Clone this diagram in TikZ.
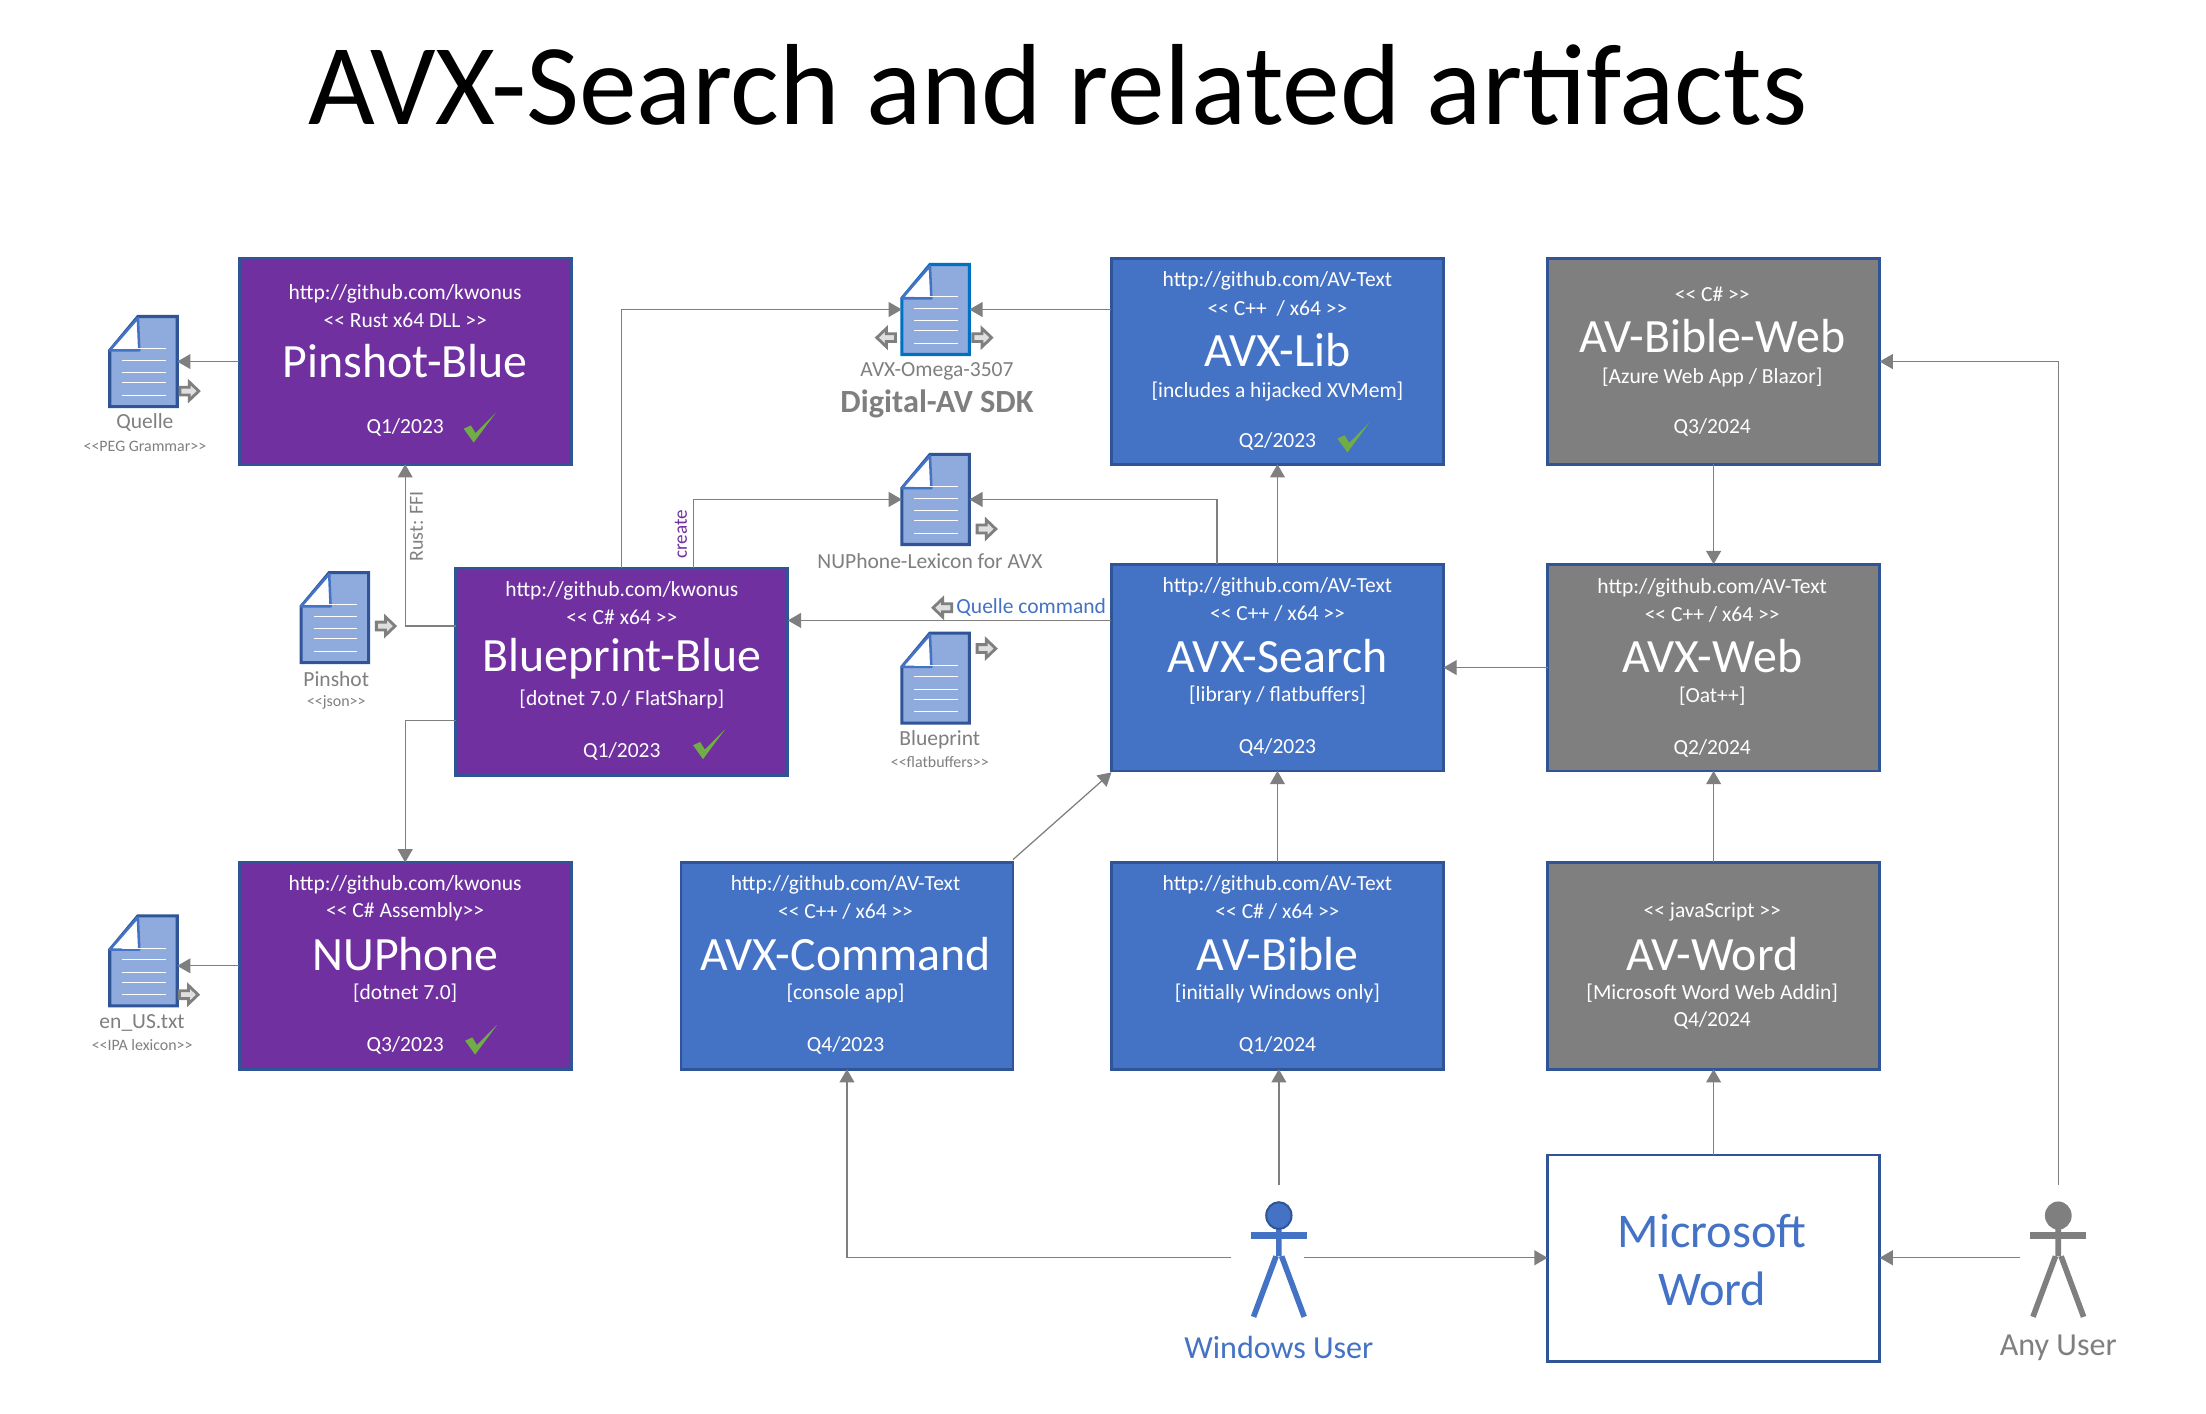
\documentclass[tikz,border=0pt]{standalone}
\usepackage{fontspec}
\usetikzlibrary{arrows.meta,calc}
\newfontfamily\carl{Carlito}
\definecolor{edgeb}{HTML}{2F5597}
\definecolor{purp}{HTML}{7030A0}
\definecolor{blu}{HTML}{4472C4}
\definecolor{gry}{HTML}{7F7F7F}
\definecolor{docf}{HTML}{8FAADC}
\definecolor{grn}{HTML}{70AD47}
\definecolor{sdkb}{HTML}{0070C0}
\tikzset{
  boxn/.style={draw=edgeb,line width=1pt,inner sep=0,outer sep=0},
  txt/.style={inner sep=0,outer sep=0,anchor=center},
  conn/.style={draw=gry,line width=0.45pt,-{Triangle[length=4.7pt,width=5.3pt]}},
  docn/.style={inner sep=0,outer sep=0,minimum width=24pt,minimum height=32pt},
  actor/.style={line width=2pt,line cap=butt},
  hollow/.style={draw=gry,fill=gray!25,line width=1pt,line join=miter}
}
% box: name x1 y1 x2 y2 fill
\newcommand{\bx}[6]{\node[boxn,fill=#6,minimum width={(#4-#2)*0.5pt},minimum height={(#5-#3)*0.5pt}] (#1) at ({(#2+#4)/2},{(#3+#5)/2}) {};}
% label: name x y size colour text
\newcommand{\lbl}[6]{\node[txt,text=#5,font=\carl\fontsize{#4}{#4}\selectfont] (#1) at (#2,#3) {#6};}
% doc: name x y colour
\newcommand{\docu}[4]{%
  \node[docn] (#1) at ({#2+24},{#3+32}) {};
  \begin{scope}[shift={(#2,#3)}]
    \draw[draw=#4,fill=docf,line width=1.1pt] (20,0) -- (48,0) -- (48,64) -- (0,64) -- (0,24) -- cycle;
    \draw[draw=blu,fill=white,line width=0.9pt,line join=round] (0,24) -- (20,1) -- (21,24) -- cycle;
    \foreach \yy in {23,31,40,47,56} \draw[white,line width=0.35pt] (9,\yy) -- (40,\yy);
  \end{scope}}
% hollow arrow: x y direction
\newcommand{\harr}[3]{\begin{scope}[shift={(#1,#2)},xscale=#3]
  \draw[hollow] (-6.5,-2.8) -- (0,-2.8) -- (0,-6.5) -- (6.8,0) -- (0,6.5) -- (0,2.8) -- (-6.5,2.8) -- cycle;
  \end{scope}}
% check: x y
\newcommand{\chk}[2]{\fill[grn,shift={(#1,#2)}] (-11.4,0.7) -- (-6.3,-1.6) -- (-3,3.8) -- (11.4,-10.6) -- (-4.3,10.6) -- cycle;}
% actor: x colour
\newcommand{\actr}[2]{\begin{scope}[shift={(#1,0)}]
  \draw[actor,draw=#2] (0,873) -- (0,893) (-2,893) -- (-18,936) (2,893) -- (18,936);
  \draw[actor,draw=#2,line width=2.6pt] (-20,878) -- (20,878);
  \end{scope}}
\begin{document}
\begin{tikzpicture}[x=0.5pt,y=-0.5pt]
\useasboundingbox[fill=white] (0,0) rectangle (1568,1005);
% boxes
\bx{pinshot}{170}{184}{406}{330}{purp}
\bx{blueprint}{324}{404}{560}{551}{purp}
\bx{nuphone}{170}{613}{406}{760}{purp}
\bx{command}{484}{613}{720}{760}{blu}
\bx{bible}{790}{613}{1026}{760}{blu}
\bx{word}{1100}{613}{1336}{760}{gry}
\bx{search}{790}{401}{1026}{548}{blu}
\bx{lib}{790}{184}{1026}{330}{blu}
\bx{bibleweb}{1100}{184}{1336}{330}{gry}
\bx{web}{1100}{401}{1336}{548}{gry}
\bx{msword}{1100}{821}{1336}{968}{white}
% documents
\docu{dquelle}{78}{225}{edgeb}
\docu{dpinshot}{214}{407}{edgeb}
\docu{dsdk}{641}{188}{sdkb}
\docu{dlex}{641}{323}{edgeb}
\docu{dblue}{641}{450}{edgeb}
\docu{denus}{78}{651}{edgeb}
\harr{134.5}{278}{1}
\harr{274}{445}{1}
\harr{630}{240}{-1}
\harr{698}{240}{1}
\harr{701}{376}{1}
\harr{701}{461}{1}
\harr{134}{707}{1}
\harr{670}{432}{-1}
% named free ends
\coordinate (bpcreate) at (493,404);
\coordinate (searchlex) at (865,401);
\coordinate (bpw1) at (324,445);
\coordinate (bpw2) at (324,512);
\coordinate (searchw) at (790,441);
\coordinate (cmdne) at (720,611);
\coordinate (searchsw) at (790,549);
\coordinate (wuleft) at (875,894);
\coordinate (wuright) at (927,894);
\coordinate (wutop) at (909,842);
\coordinate (auleft) at (1436,894);
\coordinate (autop) at (1463,842);
% connectors
\draw[conn] (pinshot.west) -- (dquelle.east |- pinshot.west);
\draw[conn] (blueprint.north) |- (dsdk.west);
\draw[conn] (lib.west |- dsdk.east) -- (dsdk.east);
\draw[conn] (bpcreate) |- (dlex.west);
\draw[conn] (searchlex) |- (dlex.east);
\draw[conn] (search.north) -- (lib.south);
\draw[conn] (searchw) -- (searchw -| blueprint.east);
\draw[conn] (bpw1) -| (pinshot.south);
\draw[conn] (bpw2) -| (nuphone.north);
\draw[conn] (nuphone.west) -- (denus.east |- nuphone.west);
\draw[conn] (cmdne) -- (searchsw);
\draw[conn] (bible.north) -- (search.south);
\draw[conn] (word.north) -- (web.south);
\draw[conn] (web.west) -- (search.east);
\draw[conn] (bibleweb.south) -- (web.north);
\draw[conn] (wuleft) -| (command.south);
\draw[conn] (wutop) -- (wutop |- bible.south);
\draw[conn] (wuright) -- (wuright -| msword.west);
\draw[conn] (msword.north) -- (word.south);
\draw[conn] (auleft) -- (auleft -| msword.east);
\draw[conn] (autop) |- (bibleweb.east);
% title
\lbl{title}{752}{60}{41}{black}{AVX-Search and related artifacts}
% Pinshot
\lbl{p1}{288}{209}{7.65}{white}{http://github.com/kwonus}
\lbl{p2}{288}{228}{7.65}{white}{<< Rust x64 DLL >>}
\lbl{p3}{288}{257}{17}{white}{Pinshot-Blue}
\lbl{p4}{288}{304}{7.65}{white}{Q1/2023}
\chk{341}{304}
% Blueprint
\lbl{b1}{442}{420}{7.65}{white}{http://github.com/kwonus}
\lbl{b2}{442}{439}{7.65}{white}{<< C\# x64 >>}
\lbl{b3}{442}{468}{17}{white}{Blueprint-Blue}
\lbl{b4}{442}{497}{7.65}{white}{[dotnet 7.0 / FlatSharp]}
\lbl{b5}{442}{534}{7.65}{white}{Q1/2023}
\chk{504}{529}
% NUPhone
\lbl{n1}{288}{629}{7.65}{white}{http://github.com/kwonus}
\lbl{n2}{288}{648}{7.65}{white}{<< C\# Assembly>>}
\lbl{n3}{288}{678}{17}{white}{NUPhone}
\lbl{n4}{288}{706}{7.65}{white}{[dotnet 7.0]}
\lbl{n5}{288}{743}{7.65}{white}{Q3/2023}
\chk{342}{739}
% Command
\lbl{c1}{601}{629}{7.65}{white}{http://github.com/AV-Text}
\lbl{c2}{601}{648}{7.65}{white}{<< C++ / x64 >>}
\lbl{c3}{601}{678}{17}{white}{AVX-Command}
\lbl{c4}{601}{706}{7.65}{white}{[console app]}
\lbl{c5}{601}{743}{7.65}{white}{Q4/2023}
% Bible
\lbl{v1}{908}{629}{7.65}{white}{http://github.com/AV-Text}
\lbl{v2}{908}{648}{7.65}{white}{<< C\# / x64 >>}
\lbl{v3}{908}{678}{17}{white}{AV-Bible}
\lbl{v4}{908}{706}{7.65}{white}{[initially Windows only]}
\lbl{v5}{908}{743}{7.65}{white}{Q1/2024}
% Word
\lbl{w2}{1217}{648}{7.65}{white}{<< javaScript >>}
\lbl{w3}{1217}{678}{17}{white}{AV-Word}
\lbl{w4}{1217}{706}{7.65}{white}{[Microsoft Word Web Addin]}
\lbl{w5}{1217}{725}{7.65}{white}{Q4/2024}
% Search
\lbl{s1}{908}{417}{7.65}{white}{http://github.com/AV-Text}
\lbl{s2}{908}{436}{7.65}{white}{<< C++ / x64 >>}
\lbl{s3}{908}{466}{17}{white}{AVX-Search}
\lbl{s4}{908}{494}{7.65}{white}{[library / flatbuffers]}
\lbl{s5}{908}{531}{7.65}{white}{Q4/2023}
% Lib
\lbl{l1}{908}{200}{7.65}{white}{http://github.com/AV-Text}
\lbl{l2}{908}{219}{7.65}{white}{<< C++ \ / x64 >>}
\lbl{l3}{908}{249}{17}{white}{AVX-Lib}
\lbl{l4}{908}{278}{7.65}{white}{[includes a hijacked XVMem]}
\lbl{l5}{908}{314}{7.65}{white}{Q2/2023}
\chk{962}{311}
% Bible web
\lbl{e2}{1217}{209}{7.65}{white}{<< C\# >>}
\lbl{e3}{1217}{239}{17}{white}{AV-Bible-Web}
\lbl{e4}{1217}{268}{7.65}{white}{[Azure Web App / Blazor]}
\lbl{e5}{1217}{304}{7.65}{white}{Q3/2024}
% Web
\lbl{a1}{1217}{418}{7.65}{white}{http://github.com/AV-Text}
\lbl{a2}{1217}{437}{7.65}{white}{<< C++ / x64 >>}
\lbl{a3}{1217}{466}{17}{white}{AVX-Web}
\lbl{a4}{1217}{495}{7.65}{white}{[Oat++]}
\lbl{a5}{1217}{532}{7.65}{white}{Q2/2024}
% Word app
\lbl{m1}{1217}{875}{17.2}{blu}{Microsoft}
\lbl{m2}{1217}{916}{17.2}{blu}{Word}
% doc labels
\lbl{q1}{103}{300}{7.65}{gry}{Quelle}
\lbl{q2}{103}{317}{5.65}{gry}{<<PEG Grammar>>}
\lbl{j1}{239}{483}{7.65}{gry}{Pinshot}
\lbl{j2}{239}{499}{5.65}{gry}{<<json>>}
\lbl{o1}{666}{264}{7.65}{gry}{AVX-Omega-3507}
\node[txt,text=gry,font=\carl\bfseries\fontsize{11.5}{11.5}\selectfont] (o2) at (666,287) {Digital-AV SDK};
\lbl{x1}{661}{399}{7.65}{gry}{NUPhone-Lexicon for AVX}
\lbl{f1}{668}{526}{7.65}{gry}{Blueprint}
\lbl{f2}{668}{542}{5.65}{gry}{<<flatbuffers>>}
\lbl{u1}{101}{727}{7.65}{gry}{en\_US.txt}
\lbl{u2}{101}{743}{5.65}{gry}{<<IPA lexicon>>}
\node[txt,text=gry,rotate=90,font=\carl\fontsize{7.1}{7.1}\selectfont] (rust) at (296,374) {Rust: FFI};
\node[txt,text=purp,rotate=90,font=\carl\fontsize{6.8}{6.8}\selectfont] (create) at (484,380) {create};
\lbl{qc}{733}{432}{7.65}{blu}{Quelle command}
% actors
\actr{909}{blu}
\draw[draw=edgeb,fill=blu,line width=0.7pt] (909,864) ellipse [x radius=9,y radius=9.5];
\actr{1463}{gry}
\fill[gry] (1463,864) ellipse [x radius=9.5,y radius=10];
\lbl{wu}{909}{958}{11.4}{blu}{Windows User}
\lbl{au}{1463}{958}{11.4}{gry}{Any User}
\end{tikzpicture}
\end{document}
